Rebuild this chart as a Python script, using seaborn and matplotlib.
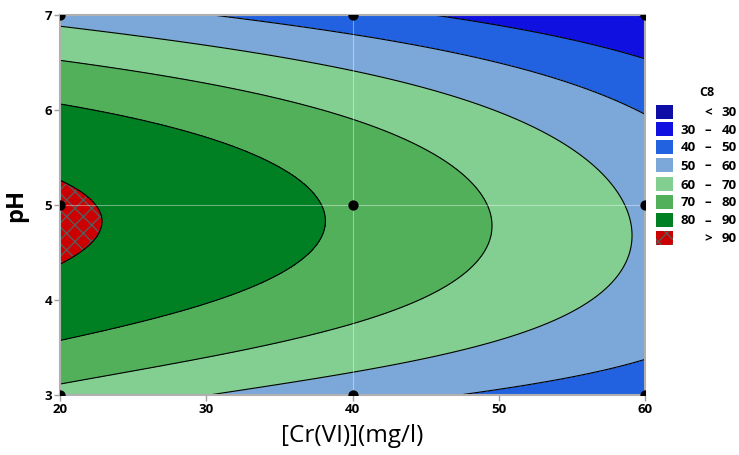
import numpy as np
import matplotlib
matplotlib.use("Agg")
import matplotlib.pyplot as plt
from matplotlib.patches import Rectangle
import seaborn as sns
import pandas as pd

# Design points (3x3 factorial) and response C8 at each point
cr_levels = [20, 40, 60]
ph_levels = [3, 5, 7]
# rows: Cr(VI) = 20, 40, 60 ; columns: pH = 3, 5, 7
c8_values = [[67.0, 91.2, 56.3],
             [54.0, 78.3, 43.8],
             [44.0, 58.4, 29.5]]

contour_levels = [0, 30, 40, 50, 60, 70, 80, 90, 100]
band_colors = ["#0E0EA6", "#1010E0", "#2262E0", "#7BA7D9",
               "#82CF91", "#52B05B", "#008022", "#CC0000"]
legend_labels = [("", "<", "30"), ("30", "–", "40"), ("40", "–", "50"),
                 ("50", "–", "60"), ("60", "–", "70"), ("70", "–", "80"),
                 ("80", "–", "90"), ("", ">", "90")]
x_ticks = [20, 30, 40, 50, 60]
y_ticks = [3, 4, 5, 6, 7]

sns.set_theme(style="white")
plt.rcParams["font.family"] = ["Open Sans", "DejaVu Sans"]
plt.rcParams["text.color"] = "black"
plt.rcParams["axes.labelcolor"] = "black"
plt.rcParams["xtick.labelcolor"] = "black"
plt.rcParams["ytick.labelcolor"] = "black"
plt.rcParams["hatch.linewidth"] = 1.0

HATCH_GRAY = "#5A5A5A"

# Quadratic-by-quadratic response surface through the design points
xs = np.array(cr_levels, float)
ps = np.array(ph_levels, float)
Z = np.array(c8_values, float)
def basis(v):
    return np.vstack([np.ones_like(v), v, v ** 2]).T
coef = np.linalg.solve(basis(xs), np.linalg.solve(basis(ps), Z.T).T)
gx = np.linspace(20, 60, 301)
gp = np.linspace(3, 7, 301)
surface = basis(gp) @ (basis(gx) @ coef).T  # (len(gp), len(gx))

fig = plt.figure(figsize=(7.39, 4.55), dpi=100)
ax = fig.add_axes([60 / 739, 60 / 455, 585 / 739, 380 / 455])

ax.contourf(gx, gp, surface, levels=contour_levels, colors=band_colors,
            zorder=1)
hcs = ax.contourf(gx, gp, surface, levels=contour_levels[-2:],
                  colors="none", hatches=["xx"], zorder=1.5)
hcs.set_edgecolor(HATCH_GRAY)
hcs.set_linewidth(0)
ax.contour(gx, gp, surface, levels=contour_levels[1:-1], colors="black",
           linewidths=0.8, zorder=2)

ax.axvline(40, color="white", alpha=0.4, lw=0.8, zorder=3)
ax.axhline(5, color="white", alpha=0.4, lw=0.8, zorder=3)

pts = pd.DataFrame([(x, p) for x in cr_levels for p in ph_levels],
                   columns=["Cr", "pH"])
sns.scatterplot(data=pts, x="Cr", y="pH", ax=ax, color="black", s=55,
                edgecolor="black", linewidth=0, zorder=4, clip_on=True,
                legend=False)

ax.set_xlim(20, 60)
ax.set_ylim(3, 7)
ax.set_xticks(x_ticks)
ax.set_yticks(y_ticks)
ax.tick_params(axis="both", which="major", length=4, width=1, color="#A0A0A0",
               labelsize=9.5, pad=1.5, bottom=True, left=True,
               labelcolor="black")
for lab in ax.get_xticklabels() + ax.get_yticklabels():
    lab.set_fontweight("bold")
for s in ax.spines.values():
    s.set_color("#B0B0B0")
    s.set_linewidth(1.5)

ax.set_xlabel("[Cr(VI)](mg/l)", fontsize=17.5, labelpad=6, color="black")
ax.set_ylabel("pH", fontsize=17, fontweight="bold", labelpad=12, color="black")

# Legend (Minitab style)
fig.text(707 / 739, 1 - 96 / 455, "C8", ha="center", va="baseline",
         fontsize=9, fontweight="bold")
row_tops = [105, 122, 140, 158, 177, 195, 213, 231]
for i, (top, col, lab) in enumerate(zip(row_tops, band_colors, legend_labels)):
    r = Rectangle((656 / 739, 1 - (top + 14) / 455), 17 / 739, 14 / 455,
                  transform=fig.transFigure, facecolor=col,
                  edgecolor=HATCH_GRAY, linewidth=0,
                  hatch=("xx" if i == 7 else None))
    fig.add_artist(r)
    yb = 1 - (top + 11.5) / 455
    fig.text(696 / 739, yb, lab[0], ha="right", va="baseline", fontsize=9.5,
             fontweight="bold")
    fig.text(708 / 739, yb, lab[1], ha="center", va="baseline", fontsize=9.5,
             fontweight="bold")
    fig.text(737 / 739, yb, lab[2], ha="right", va="baseline", fontsize=9.5,
             fontweight="bold")

fig.savefig("out.png", dpi=100)
